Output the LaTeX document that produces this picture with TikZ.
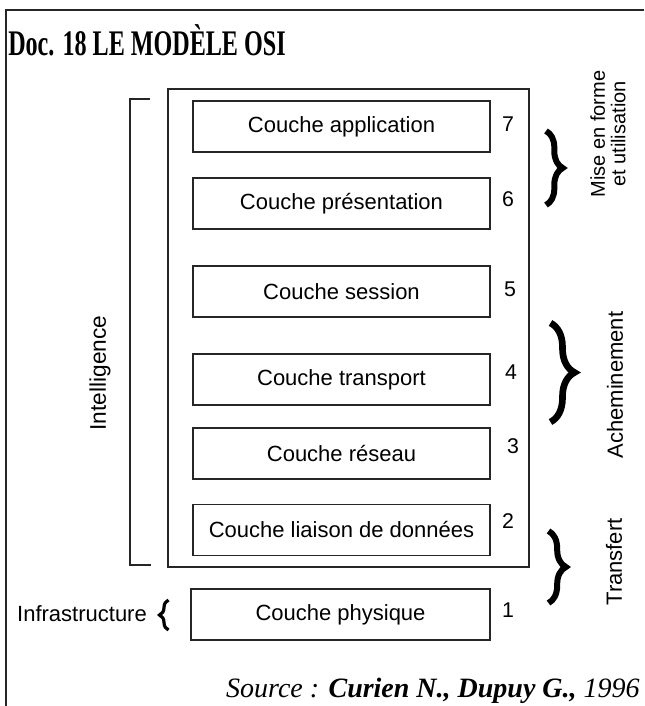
\documentclass[tikz,border=0pt]{standalone}
\usepackage{fontspec}
\setmainfont{Liberation Serif}
\setsansfont{Liberation Sans}
\usepackage{graphicx}
\usetikzlibrary{decorations.pathreplacing}

\begin{document}
\begin{tikzpicture}[x=0.75pt,y=0.75pt,yscale=-1,xscale=1,
  cadre/.style={draw=black!85, line width=1.1pt},
  couche/.style={draw=black!85, line width=1.1pt, minimum width=222.75pt, minimum height=38.25pt, inner sep=0pt, font=\sffamily\fontsize{16.5}{19}\selectfont},
  numero/.style={inner sep=0.75pt, font=\sffamily\fontsize{16}{19}\selectfont},
  etiquette/.style={rotate=90, inner sep=0.75pt, align=center, font=\sffamily\fontsize{16.5}{19}\selectfont},
  accolade/.style={draw=black, line width=4.5pt, decorate, decoration={brace, amplitude=#1}}]
\useasboundingbox (0,0) rectangle (644,706);

%Straight Lines [page frame]
\draw[cadre] (644,10) -- (6,10) -- (6,706) ;
% Text Node
\node[anchor=base west, inner sep=0pt, font=\bfseries\fontsize{27}{31}\selectfont] (titre) at (8,56) {\scalebox{0.67}[1]{Doc. 18 LE MODÈLE OSI}};

%Shape: Rectangle [outer box]
\draw[cadre] (168,89) rectangle (529,567) ;
%Straight Lines [Intelligence bracket]
\draw[cadre] (150,99) -- (130,99) -- (130,565) -- (151,565) ;

%Layers
\node[couche] (application) at (341.5,126.5) {Couche application};
\node[couche] (presentation) at (341.5,203.5) {Couche présentation};
\node[couche] (session) at (341.5,291.5) {Couche session};
\node[couche] (transport) at (341.5,379.5) {Couche transport};
\node[couche] (reseau) at (341.5,453.5) {Couche réseau};
\node[couche] (liaison) at (341.5,530) {Couche liaison de données};
\node[couche, minimum width=224.25pt] (physique) at (340.5,614.5) {Couche physique};

% Text Node
\node[numero] (n7) at (508,124) {7};
\node[numero] (n6) at (508,199) {6};
\node[numero] (n5) at (510,289) {5};
\node[numero] (n4) at (511,372) {4};
\node[numero] (n3) at (513,446) {3};
\node[numero] (n2) at (508,521) {2};
\node[numero] (n1) at (508,610) {1};

%Braces
\coordinate (miseHaut) at (546,131);
\coordinate (miseBas) at (546,205);
\draw[accolade=12.5pt] (miseHaut) -- (miseBas) ;
\coordinate (achemHaut) at (550.5,323);
\coordinate (achemBas) at (550.5,422);
\draw[accolade=18pt, line width=5pt] (achemHaut) -- (achemBas) ;
\coordinate (transHaut) at (548.5,531);
\coordinate (transBas) at (548.5,603);
\draw[accolade=13pt] (transHaut) -- (transBas) ;
\coordinate (infraBas) at (168.5,630);
\coordinate (infraHaut) at (168.5,600);
\draw[accolade=6.75pt, line width=2.4pt] (infraBas) -- (infraHaut) ;

% Text Node
\node[etiquette, font=\sffamily\fontsize{15}{15.5}\selectfont] (mise) at (608,134) {Mise en forme\\et utilisation};
\node[etiquette] (achem) at (615,385) {Acheminement};
\node[etiquette] (transfert) at (614,562) {Transfert};
\node[etiquette, font=\sffamily\fontsize{17}{19}\selectfont] (intel) at (100,373) {Intelligence};
\node[numero, font=\sffamily\fontsize{16.5}{19}\selectfont] (infra) at (82,614) {Infrastructure};

% Text Node
\node[anchor=base east, inner sep=0pt, font=\fontsize{21}{24}\selectfont] (source) at (640,697) {\textit{Source :} \textbf{\textit{Curien N., Dupuy G.,}} \textit{1996}};

\end{tikzpicture}
\end{document}
